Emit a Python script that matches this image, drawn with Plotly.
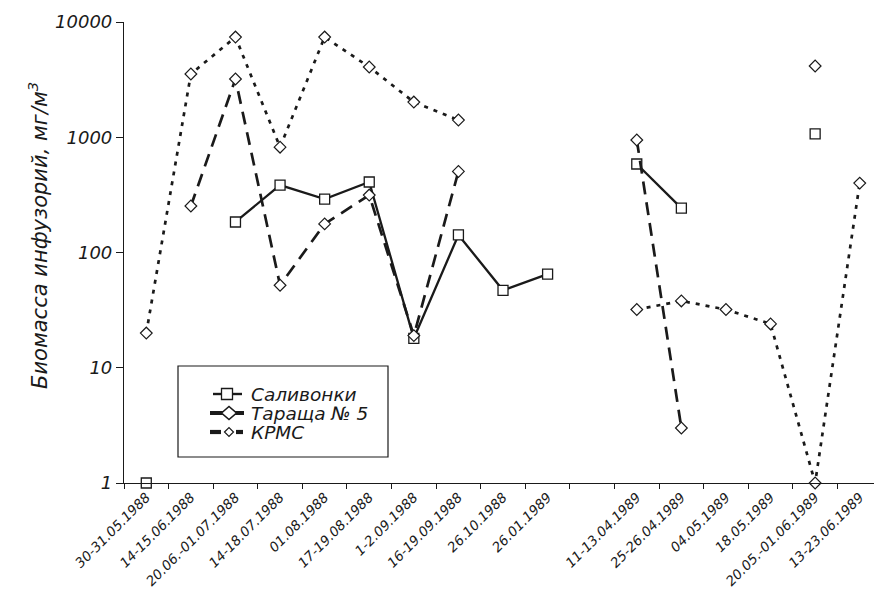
import plotly.graph_objects as go

# Sampling dates (the empty slot separates the 1988 and 1989 seasons)
dates = [
    "30-31.05.1988", "14-15.06.1988", "20.06.-01.07.1988", "14-18.07.1988",
    "01.08.1988", "17-19.08.1988", "1-2.09.1988", "16-19.09.1988",
    "26.10.1988", "26.01.1989", "",
    "11-13.04.1989", "25-26.04.1989", "04.05.1989", "18.05.1989",
    "20.05.-01.06.1989", "13-23.06.1989",
]

# Ciliate biomass, mg/m3 (None = no sample)
salivonki = [1, None, 184, 385, 291, 409, 18, 142, 47, 65, None,
             586, 243, None, None, 1070, None]
tarashcha5 = [None, 253, 3200, 52, 177, 315, 19, 505, None, None, None,
              946, 3, None, None, 4150, None]
krms = [20, 3540, 7400, 820, 7400, 4070, 2020, 1410, None, None, None,
        32, 38, 32, 24, 1, 400]

series_names = ["Саливонки", "Тараща № 5", "КРМС"]

x_pos = list(range(len(dates)))

FONT = "DejaVu Sans, sans-serif"
INK = "#1a1a1a"

# Plot area in pixels (used for placing the hand-drawn legend)
W, H = 874, 592
L, R, T, B = 124, 0, 22, 109


def px_x(px):
    return (px - L) / (W - L - R)


def px_y(py):
    return (H - B - py) / (H - T - B)


fig = go.Figure()

fig.add_trace(go.Scatter(
    x=x_pos, y=salivonki, name=series_names[0], mode="lines+markers",
    line=dict(color=INK, width=2.3),
    marker=dict(symbol="square", size=10, color="white",
                line=dict(color=INK, width=1.3)),
    connectgaps=False, cliponaxis=False,
))
fig.add_trace(go.Scatter(
    x=x_pos, y=tarashcha5, name=series_names[1], mode="lines+markers",
    line=dict(color=INK, width=2.7, dash="13px,8px"),
    marker=dict(symbol="diamond", size=9, color="white",
                line=dict(color=INK, width=1.2)),
    connectgaps=False, cliponaxis=False,
))
fig.add_trace(go.Scatter(
    x=x_pos, y=krms, name=series_names[2], mode="lines+markers",
    line=dict(color=INK, width=2.7, dash="4px,6px"),
    marker=dict(symbol="diamond", size=9, color="white",
                line=dict(color=INK, width=1.2)),
    connectgaps=False, cliponaxis=False,
))

shapes = []
annotations = []

# Legend frame
shapes.append(dict(type="rect", xref="paper", yref="paper",
                   x0=px_x(178), x1=px_x(388), y0=px_y(457), y1=px_y(366),
                   line=dict(color=INK, width=1.2), fillcolor="white",
                   layer="below"))


def seg(x0, x1, y, w):
    return dict(type="line", xref="paper", yref="paper",
                x0=px_x(x0), x1=px_x(x1), y0=px_y(y), y1=px_y(y),
                line=dict(color=INK, width=w))


def square(cx, cy, half):
    return dict(type="rect", xref="paper", yref="paper",
                x0=px_x(cx - half), x1=px_x(cx + half),
                y0=px_y(cy + half), y1=px_y(cy - half),
                line=dict(color=INK, width=1.3), fillcolor="white")


def diamond(cx, cy, hw, hh, lw=1.2):
    pts = [(cx - hw, cy), (cx, cy - hh), (cx + hw, cy), (cx, cy + hh)]
    path = "M " + " L ".join(f"{px_x(a):.5f},{px_y(b):.5f}" for a, b in pts) + " Z"
    return dict(type="path", xref="paper", yref="paper", path=path,
                line=dict(color=INK, width=lw), fillcolor="white")


rows_y = [394, 413, 432]
# Саливонки key
shapes += [seg(213, 242, rows_y[0], 2.4), square(227, rows_y[0], 5.5)]
# Тараща № 5 key
shapes += [seg(210, 244, rows_y[1], 4.2), diamond(229, rows_y[1], 7.5, 6.5, 1.6)]
# КРМС key
shapes += [seg(210, 221, rows_y[2], 4.2), seg(236, 243, rows_y[2], 4.2),
           diamond(229, rows_y[2], 4.5, 4.5)]

for name, ry in zip(series_names, rows_y):
    annotations.append(dict(
        text=name, xref="paper", yref="paper", x=px_x(249), y=px_y(ry),
        xanchor="left", yanchor="middle", showarrow=False,
        font=dict(family=FONT, size=18.5, style="italic", color=INK)))

# Y-axis title
annotations.append(dict(
    text="Биомасса инфузорий, мг/м<sup>3</sup>", xref="paper", yref="paper",
    x=px_x(38), y=px_y(236), xanchor="center", yanchor="middle",
    textangle=-90, showarrow=False,
    font=dict(family=FONT, size=21, style="italic", color=INK)))

fig.update_layout(
    width=W, height=H,
    margin=dict(l=L, r=R, t=T, b=B, autoexpand=False),
    paper_bgcolor="white", plot_bgcolor="white",
    font=dict(family=FONT, color=INK),
    showlegend=False,
    shapes=shapes, annotations=annotations,
    xaxis=dict(
        range=[-0.5, 16.32], automargin=False,
        tickmode="array", tickvals=x_pos, ticktext=dates,
        tickangle=-45, ticks="",
        tickfont=dict(family=FONT, size=13.5, style="italic", color=INK),
        showline=True, linecolor=INK, linewidth=1.2,
        showgrid=False, zeroline=False,
        minor=dict(tickmode="linear", tick0=-0.5, dtick=1, ticks="outside",
                   ticklen=5, tickcolor=INK, tickwidth=1, showgrid=False),
    ),
    yaxis=dict(
        type="log", range=[0, 4], automargin=False,
        tickmode="array", tickvals=[1, 10, 100, 1000, 10000],
        ticktext=["1", "10", "100", "1000", "10000"],
        ticks="outside", ticklen=7, tickcolor=INK,
        tickfont=dict(family=FONT, size=18, style="italic", color=INK),
        showline=True, linecolor=INK, linewidth=1.2,
        showgrid=False, zeroline=False,
    ),
)

fig.write_html("out.html")
